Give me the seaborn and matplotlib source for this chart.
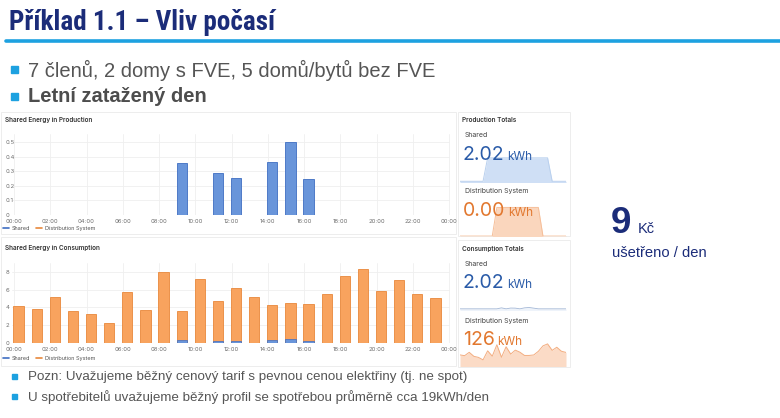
import numpy as np
import pandas as pd
import matplotlib
matplotlib.use("Agg")
import matplotlib.pyplot as plt
from matplotlib.lines import Line2D
from matplotlib.patches import Rectangle
from matplotlib import font_manager
import seaborn as sns

# ---------------- data ----------------
hours = list(range(24))
tick_hours = [0, 2, 4, 6, 8, 10, 12, 14, 16, 18, 20, 22, 24]
tick_labels = ["00:00", "02:00", "04:00", "06:00", "08:00", "10:00", "12:00",
               "14:00", "16:00", "18:00", "20:00", "22:00", "00:00"]

prod_shared = [0, 0, 0, 0, 0, 0, 0, 0, 0, 0.36, 0, 0.29, 0.255, 0, 0.365, 0.50,
               0.25, 0, 0, 0, 0, 0, 0, 0]
cons_shared = [0, 0, 0, 0, 0, 0, 0, 0, 0, 0.36, 0, 0.29, 0.255, 0, 0.365, 0.50,
               0.25, 0, 0, 0, 0, 0, 0, 0]
cons_dist = [4.16, 3.87, 5.13, 3.64, 3.23, 2.30, 5.69, 3.68, 7.96, 3.28, 7.21, 4.47,
             5.95, 5.17, 3.95, 3.96, 4.14, 5.50, 7.55, 8.29, 5.87, 7.03, 5.54, 5.09]

prod_shared_spark = [0, 0, 0, 0, 0, 0, 1, 1, 1, 1, 1, 1, 1, 1, 1, 1, 1, 1, 1, 1, 0, 0, 0, 0]
prod_dist_spark = [0, 0, 0, 0, 0, 0, 0, 0, 1, 1, 1, 1, 1, 1, 1, 1, 1, 1, 0, 0, 0, 0, 0, 0]

total_prod_shared = "2.02"
total_prod_dist = "0.00"
total_cons_shared = "2.02"
total_cons_dist = "126"

title = "Příklad 1.1 – Vliv počasí"
bullets_top = ["7 členů, 2 domy s FVE, 5 domů/bytů bez FVE", "Letní zatažený den"]
bullets_bottom = ["Pozn: Uvažujeme běžný cenový tarif s pevnou cenou elektřiny (tj. ne spot)",
                  "U spotřebitelů uvažujeme běžný profil se spotřebou průměrně cca 19kWh/den"]
saving_value = "9"
saving_unit = "Kč"
saving_text = "ušetřeno / den"

# ---------------- style ----------------
sns.set_style("white")
names = {f.name for f in font_manager.fontManager.ttflist}
narrow = next((n for n in ["Liberation Sans Narrow", "Roboto Condensed", "Open Sans Condensed"]
               if n in names), "Liberation Sans")
SLIDE = ["Liberation Sans", "DejaVu Sans"]
UI = ["Inter", "DejaVu Sans"]
plt.rcParams["font.family"] = SLIDE

W, H = 780, 418
fig = plt.figure(figsize=(W / 100, H / 100), dpi=100)
fig.patch.set_facecolor("white")

NAVY = "#1B2C79"
CYAN = "#1DA1E0"
GRAY = "#555555"
BLUE_F, BLUE_E = "#6995DA", "#3F6EC2"
ORNG_F, ORNG_E = "#F8A35E", "#E8883B"
NUM_BLUE = "#2A5BA8"
NUM_ORNG = "#E2782F"


def fy(y):
    return 1 - y / H


def axes_px(x0, y0, x1, y1):
    return fig.add_axes([x0 / W, 1 - y1 / H, (x1 - x0) / W, (y1 - y0) / H])


def rect_px(x0, y0, x1, y1, **kw):
    fig.add_artist(Rectangle((x0 / W, 1 - y1 / H), (x1 - x0) / W, (y1 - y0) / H,
                             transform=fig.transFigure, **kw))


# ---------------- slide texts ----------------
title_size = 19.5 if narrow != "Liberation Sans" else 16
fig.text(9 / W, fy(22.5), title, fontsize=title_size, fontweight="bold", color=NAVY,
         family=[narrow, "DejaVu Sans"], va="center")
fig.add_artist(Line2D([6 / W, 1.0], [fy(41), fy(41)], lw=2.6, color=CYAN,
                      transform=fig.transFigure))

rect_px(11, 66, 18, 73, color=CYAN)
fig.text(28 / W, fy(70), bullets_top[0], fontsize=14.5, color=GRAY, va="center")
rect_px(11, 93, 18, 100, color=CYAN)
fig.text(28 / W, fy(97), bullets_top[1], fontsize=14.5, color="#4D4D4D",
         fontweight="bold", va="center")

rect_px(12, 374, 17, 379, color=CYAN)
fig.text(28 / W, fy(377), bullets_bottom[0], fontsize=9.6, color=GRAY, va="center")
rect_px(12, 394, 17, 399, color=CYAN)
fig.text(28 / W, fy(397), bullets_bottom[1], fontsize=9.6, color=GRAY, va="center")

fig.text(611 / W, fy(233), saving_value, fontsize=26.5, fontweight="bold", color=NAVY,
         va="baseline")
fig.text(638 / W, fy(233), saving_unit, fontsize=10.5, color=NAVY, va="baseline")
fig.text(612 / W, fy(257), saving_text, fontsize=10.6, color=NAVY, va="baseline")

# ---------------- panels ----------------
for (x0, y0, x1, y1) in [(1, 112, 456, 234), (1, 237, 456, 366),
                         (458, 112, 570, 236), (458, 240, 570, 367)]:
    rect_px(x0, y0, x1, y1, facecolor="white", edgecolor="#EAEAEA", lw=0.6, zorder=0)


def style_bar_axes(ax, ymax, yticks, yfmt):
    ax.set_xlim(-0.1, 24.07)
    ax.set_ylim(0, ymax)
    ax.set_xticks(tick_hours)
    ax.set_xticklabels(tick_labels)
    ax.set_yticks(yticks)
    ax.set_yticklabels([yfmt(v) for v in yticks])
    ax.set_xlabel("")
    ax.set_ylabel("")
    for s in ax.spines.values():
        s.set_visible(False)
    ax.grid(True, color="#EFEFEF", lw=0.6)
    ax.set_axisbelow(True)
    ax.tick_params(axis="both", length=0, labelsize=4.3, labelcolor="#6E6E6E")
    ax.tick_params(axis="x", pad=2.6)
    ax.tick_params(axis="y", pad=4.5)
    for lab in ax.get_yticklabels():
        lab.set_horizontalalignment("left")
        lab.set_family(UI)
    for lab in ax.get_xticklabels():
        lab.set_family(UI)
    ax.patch.set_alpha(0)


pos = [h + 0.25 for h in hours]

# production chart
ax1 = axes_px(12.2, 133.6, 450.3, 215)
dfp = pd.DataFrame({"pos": pos, "shared": prod_shared})
sns.barplot(data=dfp, x="pos", y="shared", native_scale=True, width=0.57, color=BLUE_F,
            edgecolor=BLUE_E, linewidth=0.6, saturation=1, errorbar=None, ax=ax1)
for p in ax1.patches:
    if p.get_height() == 0:
        p.set_edgecolor("#C9CED6")
style_bar_axes(ax1, 0.56, [0, 0.1, 0.2, 0.3, 0.4, 0.5],
               lambda v: "0" if v == 0 else f"{v:.1f}")

# consumption chart
ax2 = axes_px(12.2, 262.7, 450.3, 343.3)
dfc = pd.DataFrame({"pos": pos, "shared": cons_shared, "dist": cons_dist})
dfc["total"] = dfc["shared"] + dfc["dist"]
sns.barplot(data=dfc, x="pos", y="total", native_scale=True, width=0.57, color=ORNG_F,
            edgecolor=ORNG_E, linewidth=0.6, saturation=1, errorbar=None, ax=ax2)
sns.barplot(data=dfc[dfc["shared"] > 0], x="pos", y="shared", native_scale=True,
            width=0.57, color=BLUE_F, edgecolor=BLUE_E, linewidth=0.5,
            saturation=1, errorbar=None, ax=ax2)
# keep blue bar widths equal to orange ones
wref = ax2.patches[0].get_width()
for p in ax2.patches[24:]:
    cx = p.get_x() + p.get_width() / 2
    p.set_width(wref)
    p.set_x(cx - wref / 2)
style_bar_axes(ax2, 9.0, [0, 2, 4, 6, 8], lambda v: f"{v:d}")

# titles and legends
fig.text(5 / W, fy(120), "Shared Energy in Production", fontsize=4.6, color="#333333",
         family=UI, fontweight="semibold", va="center")
fig.text(5 / W, fy(248), "Shared Energy in Consumption", fontsize=4.6, color="#333333",
         family=UI, fontweight="semibold", va="center")
handles = [Line2D([], [], color=BLUE_E, lw=1.2), Line2D([], [], color=ORNG_E, lw=1.2)]
for yy in (228.5, 358.5):
    fig.legend(handles, ["Shared", "Distribution System"], loc="center left",
               bbox_to_anchor=(3 / W, fy(yy)), ncol=2, frameon=False,
               prop={"family": UI, "size": 4.0}, labelcolor="#555555",
               handlelength=1.0, handletextpad=0.5, columnspacing=1.2,
               borderpad=0, borderaxespad=0)


# ---------------- stat panels ----------------
def spark(x0, y0, x1, y1, values, ylim, line, fill, lw=0.7):
    ax = axes_px(x0, y0, x1, y1)
    d = pd.DataFrame({"h": hours, "v": values})
    sns.lineplot(data=d, x="h", y="v", color=line, lw=lw, ax=ax)
    ax.fill_between(d["h"], d["v"], ylim[0] - 1, color=fill, lw=0, zorder=0)
    ax.set_xlim(0, 23)
    ax.set_ylim(*ylim)
    ax.axis("off")
    return ax


spark(460, 148, 566, 182, prod_shared_spark, (-0.03, 1.42), "#B9D0EE", "#CFDFF5")
spark(460, 204, 566, 235.5, prod_dist_spark, (0.02, 1.12), "#F6BE98", "#FAD6BD")
spark(460, 290, 566, 309.5, cons_shared, (-0.25, 7.0), "#A3B7D6", "#EEF3FA", lw=0.6)
spark(460, 330, 566, 366, cons_dist, (0, 13.5), "#F3AD80", "#FBDBC6")


def stat_label(x, y, s, size=5.0, weight="normal", color="#444444"):
    fig.text(x / W, fy(y), s, fontsize=size, color=color, family=UI,
             fontweight=weight, va="center", zorder=5)


stat_label(462, 120, "Production Totals", 4.6, "semibold", "#333333")
stat_label(465, 135, "Shared")
stat_label(465, 191, "Distribution System")
stat_label(462, 249, "Consumption Totals", 4.6, "semibold", "#333333")
stat_label(465, 264, "Shared")
stat_label(465, 321, "Distribution System")

renderer = fig.canvas.get_renderer()


def stat_value(x, y, num, color):
    t = fig.text(x / W, fy(y), num, fontsize=14, color=color, family=UI,
                 va="baseline", zorder=5)
    bb = t.get_window_extent(renderer=renderer)
    fig.text((bb.x1 + 2.5) / W, fy(y), "kWh", fontsize=8.5, color=color, family=UI,
             va="baseline", zorder=5)


stat_value(463, 159.5, total_prod_shared, NUM_BLUE)
stat_value(463, 216, total_prod_dist, NUM_ORNG)
stat_value(463, 288, total_cons_shared, NUM_BLUE)
stat_value(463, 345, total_cons_dist, NUM_ORNG)

fig.savefig("out.png", dpi=100, facecolor="white")
